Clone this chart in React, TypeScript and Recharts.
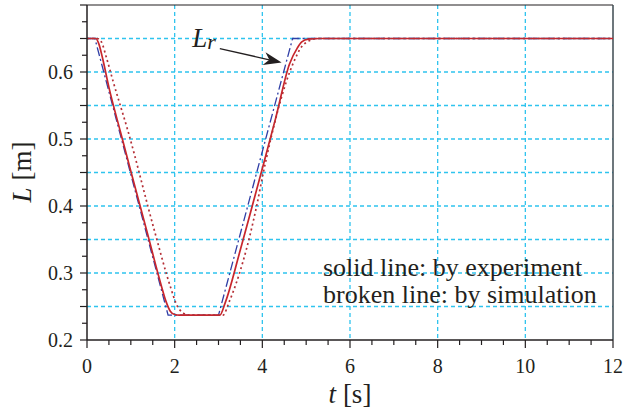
import {
  LineChart,
  Line,
  XAxis,
  YAxis,
  CartesianGrid,
  ReferenceLine,
  ReferenceDot,
} from "recharts";

// reference input L_r (dash-dot)
const refTime = [0, 0.18, 1.85, 3.0, 4.69, 12];
const refLength = [0.65, 0.65, 0.237, 0.237, 0.65, 0.65];

// experiment (solid)
const expTime = [0, 0.2, 0.27, 0.35, 0.5, 0.77, 1.0, 1.375, 1.7, 1.8, 1.9, 2.0, 2.1, 3.03, 3.15, 3.5, 3.77, 4.0, 4.3, 4.62, 4.8, 4.9, 5.05, 5.3, 12];
const expLength = [0.65, 0.65, 0.642, 0.622, 0.577, 0.509, 0.452, 0.36, 0.28, 0.258, 0.243, 0.238, 0.237, 0.237, 0.255, 0.335, 0.4, 0.456, 0.53, 0.612, 0.636, 0.645, 0.649, 0.65, 0.65];

// simulation (dotted)
const simTime = [0, 0.24, 0.32, 0.45, 0.6, 0.93, 1.535, 1.9, 2.05, 2.2, 2.35, 3.1, 3.25, 3.87, 4.02, 4.71, 4.9, 5.05, 5.25, 12];
const simLength = [0.65, 0.65, 0.646, 0.62, 0.585, 0.513, 0.364, 0.28, 0.252, 0.24, 0.237, 0.237, 0.258, 0.4, 0.449, 0.614, 0.638, 0.646, 0.65, 0.65];

const xTicks = [0, 0.5, 1, 1.5, 2, 2.5, 3, 3.5, 4, 4.5, 5, 5.5, 6, 6.5, 7, 7.5, 8, 8.5, 9, 9.5, 10, 10.5, 11, 11.5, 12];
const yTicks = [0.2, 0.225, 0.25, 0.275, 0.3, 0.325, 0.35, 0.375, 0.4, 0.425, 0.45, 0.475, 0.5, 0.525, 0.55, 0.575, 0.6, 0.625, 0.65, 0.675, 0.7];
const xGrid = [2, 4, 6, 8, 10];
const yGrid = [0.25, 0.3, 0.35, 0.4, 0.45, 0.5, 0.55, 0.6, 0.65];

const toPoints = (t: number[], l: number[]) => t.map((v, i) => ({ t: v, L: l[i] }));
const refData = toPoints(refTime, refLength);
const expData = toPoints(expTime, expLength);
const simData = toPoints(simTime, simLength);

const FONT = '"Liberation Serif", "Times New Roman", serif';
const INK = "#231f20";

const isStep = (v: number, s: number) => Math.abs(v / s - Math.round(v / s)) < 1e-6;

function XTick({ x, y, payload }: any) {
  const v = payload.value;
  const major = isStep(v, 2);
  return (
    <g>
      <line x1={x} y1={y} x2={x} y2={y + (major ? 8 : 5)} stroke={INK} strokeWidth={1.2} />
      {major && (
        <text x={x} y={y + 33} textAnchor="middle" fill={INK} fontFamily={FONT} fontSize={20}>
          {v}
        </text>
      )}
    </g>
  );
}

function YTick({ x, y, payload }: any) {
  const v = payload.value;
  const label = isStep(v, 0.1) && v < 0.65;
  const len = isStep(v, 0.05) ? 7 : 5;
  return (
    <g>
      <line x1={x - len} y1={y} x2={x} y2={y} stroke={INK} strokeWidth={1.2} />
      {label && (
        <text x={x - 14} y={y + 7} textAnchor="end" fill={INK} fontFamily={FONT} fontSize={20}>
          {v.toFixed(1)}
        </text>
      )}
    </g>
  );
}

function Arrow({ x1, y1, x2, y2 }: any) {
  const dx = x2 - x1;
  const dy = y2 - y1;
  const len = Math.hypot(dx, dy);
  const ux = dx / len;
  const uy = dy / len;
  const head = 18;
  const w = 6.5;
  const bx = x2 - ux * head;
  const by = y2 - uy * head;
  const nx = x2 - ux * head * 0.7;
  const ny = y2 - uy * head * 0.7;
  return (
    <g>
      <line x1={x1} y1={y1} x2={nx} y2={ny} stroke={INK} strokeWidth={1.3} />
      <polygon
        points={`${x2},${y2} ${bx - uy * w},${by + ux * w} ${nx},${ny} ${bx + uy * w},${by - ux * w}`}
        fill={INK}
      />
    </g>
  );
}

function LrLabel({ cx, cy }: any) {
  return (
    <text x={cx} y={cy} fill={INK} fontFamily={FONT} fontStyle="italic" fontSize={27}>
      L
      <tspan fontSize={22} dy={2}>
        r
      </tspan>
    </text>
  );
}

export default function App() {
  return (
    <div style={{ position: "relative", width: 623, height: 412, background: "#fff" }}>
      <style>{`body{margin:0}`}</style>
      <LineChart
        width={623}
        height={412}
        margin={{ top: 5, right: 10, bottom: 0, left: 0 }}
      >
        <CartesianGrid
          stroke="#2fc4ee"
          strokeWidth={1.3}
          strokeDasharray="4 3"
          verticalValues={xGrid}
          horizontalValues={yGrid}
        />
        <XAxis
          type="number"
          dataKey="t"
          domain={[0, 12]}
          ticks={xTicks}
          interval={0}
          height={72}
          tickSize={0}
          tickMargin={0}
          tick={<XTick />}
          axisLine={{ stroke: INK, strokeWidth: 1.5 }}
          tickLine={false}
          allowDataOverflow
        />
        <YAxis
          type="number"
          dataKey="L"
          domain={[0.2, 0.7]}
          ticks={yTicks}
          interval={0}
          width={87}
          tickSize={0}
          tickMargin={0}
          tick={<YTick />}
          axisLine={{ stroke: INK, strokeWidth: 1.5 }}
          tickLine={false}
          allowDataOverflow
        />
        <ReferenceLine y={0.7} stroke={INK} strokeWidth={1.2} />
        <ReferenceLine x={12} stroke="#3c4a50" strokeWidth={1.5} />
        <Line
          data={refData}
          dataKey="L"
          type="linear"
          stroke="#2f3ea6"
          strokeWidth={1.3}
          strokeDasharray="9 3 2 3"
          dot={false}
          isAnimationActive={false}
        />
        <Line
          data={expData}
          dataKey="L"
          type="monotone"
          stroke="#c8262c"
          strokeWidth={1.7}
          dot={false}
          isAnimationActive={false}
        />
        <Line
          data={simData}
          dataKey="L"
          type="monotone"
          stroke="#b52f36"
          strokeWidth={1.7}
          strokeDasharray="2 3"
          dot={false}
          isAnimationActive={false}
        />
        <ReferenceLine
          segment={[
            { x: 3.03, y: 0.635 },
            { x: 4.44, y: 0.614 },
          ]}
          shape={<Arrow />}
        />
        <ReferenceDot x={2.4} y={0.637} r={0} shape={<LrLabel />} />
      </LineChart>
      <div
        style={{
          position: "absolute",
          left: 4,
          top: 172,
          transform: "translate(-50%, -50%) rotate(-90deg)",
          marginLeft: 18,
          fontFamily: FONT,
          fontSize: 27,
          color: INK,
          whiteSpace: "nowrap",
        }}
      >
        <i>L</i> [m]
      </div>
      <div
        style={{
          position: "absolute",
          left: 350,
          top: 379,
          transform: "translateX(-50%)",
          fontFamily: FONT,
          fontSize: 27,
          lineHeight: "30px",
          color: INK,
          whiteSpace: "nowrap",
        }}
      >
        <i>t</i> [s]
      </div>
      <div
        style={{
          position: "absolute",
          left: 323,
          top: 255,
          fontFamily: FONT,
          fontSize: 26,
          lineHeight: "26.5px",
          color: INK,
          whiteSpace: "nowrap",
        }}
      >
        solid line: by experiment
        <br />
        broken line: by simulation
      </div>
    </div>
  );
}
